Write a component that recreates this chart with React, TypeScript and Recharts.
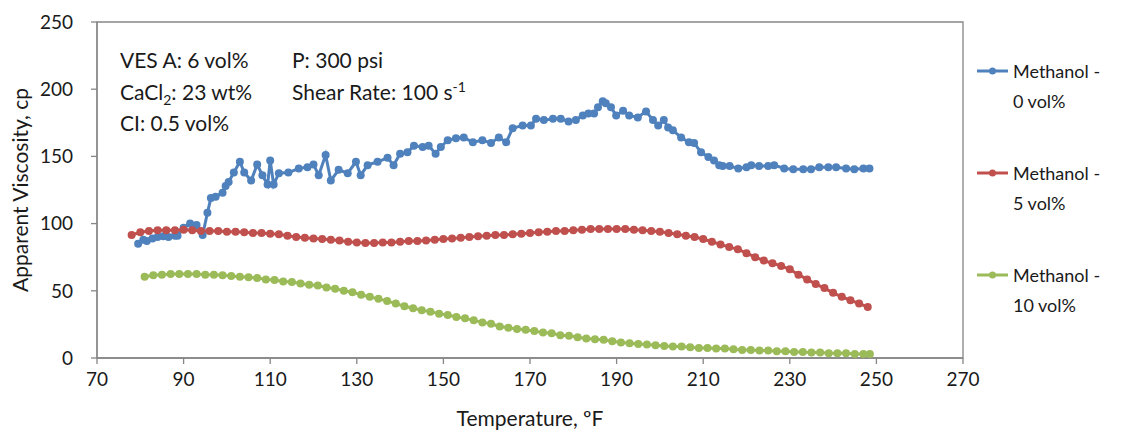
import { LineChart, Line, XAxis, YAxis, ReferenceArea } from "recharts"

// blue: methanol 0 vol% (temperature, viscosity)
const blueTemp = [
  79.5, 80.7, 81.5, 82.8, 84, 85.3, 86.5, 88, 88.6, 90, 91.5, 93, 94.4, 95.5, 96.3, 97.4, 99, 99.7, 100.4, 101.6,
  103, 104, 105.6, 107, 108.2, 109.4, 110, 110.8, 112, 114.2, 116.6, 118.6, 120, 121.2, 122.8, 124, 125.8, 127.9,
  129.8, 130.9, 132.5, 134.8, 137.1, 138.5, 140, 141.7, 143.2, 145.2, 146.6, 148.2, 149.4, 151, 152.9, 154.7,
  156.8, 159, 161, 162.8, 164.5, 166, 168.3, 170.2, 171.4, 173.2, 175.3, 177.1, 178.9, 180.6, 182.2, 183.5,
  184.8, 185.7, 186.8, 187.5, 188.7, 189.9, 191.5, 192.9, 194.9, 196.8, 198.4, 199.6, 200.9, 201.9, 203, 204.9,
  206.7, 207.9, 209.5, 211.2, 212.5, 213.7, 214.5, 216.1, 218.1, 220, 221.1, 222.9, 225, 226.4, 228.7, 230.8,
  233.1, 234.9, 236.8, 238.9, 240.7, 243, 244.9, 247, 248.4,
]
const blueVisc = [
  85, 88, 87, 89, 90, 90.5, 90, 91, 91, 97, 100, 99, 91.5, 108, 119, 120, 123, 128, 131, 138,
  146, 138, 132, 144, 136, 129, 147, 129, 137.5, 138, 141, 142, 144, 136, 151, 132, 140, 137.5,
  146, 136, 143.5, 146, 149, 143.5, 152, 153, 158, 157, 158, 152, 157, 162, 163.5, 164,
  160.5, 162, 160, 164, 160.5, 171, 173, 173, 178, 177, 178, 178, 176, 177, 180.5, 182,
  182, 186.5, 191, 189.5, 186.5, 180.5, 184, 180.5, 179, 183.5, 177, 173, 177, 171.5, 169.5, 164,
  160.5, 160, 153, 149.5, 147, 143.5, 142.8, 142.8, 141, 142, 143.5, 142.8, 142.8, 143.5, 141, 140.5,
  140.5, 140.5, 142, 142, 142, 141, 140.5, 141, 141,
]

// red: methanol 5 vol%
const redTemp = [
  78, 80, 82, 84, 86, 88, 90, 92, 94, 96, 98, 100, 102, 104, 106, 108, 110, 112, 114, 116, 118, 120, 122,
  124, 126, 128, 130, 132, 134, 136, 138, 140, 142, 144, 146, 148, 150, 152, 154, 156, 158, 160, 162, 164,
  166, 168, 170, 172, 174, 176, 178, 180, 182, 184, 186, 188, 190, 192, 194, 196, 198, 200, 202, 204, 206,
  208, 210, 212, 214, 216, 218, 220, 222, 224, 226, 228, 230, 232, 234, 236, 238, 240, 242, 244, 246, 248,
]
const redVisc = [
  91.5, 93.5, 94.5, 95, 95, 95, 95.5, 95, 94.5, 94.5, 94.5, 94, 94, 93.5, 93, 93, 92.5, 92, 91, 90, 89.5, 89, 88.5,
  88, 87.5, 86.5, 86, 85.5, 85.5, 86, 86, 86.5, 87, 87, 87.5, 88, 88.5, 89, 89.5, 90, 90.5, 91, 91.5, 91.5,
  92, 92.5, 93, 93.5, 94, 94.5, 94.5, 95, 95.5, 96, 96, 96, 96, 96, 95.5, 95, 94.5, 94, 93, 92, 91,
  90, 88.5, 86.5, 84.5, 82.5, 81, 78, 75, 72.5, 70.5, 68.5, 66, 62, 58.5, 55, 52, 48.5, 45.5, 43, 40.5, 38,
]

// green: methanol 10 vol%
const greenTemp = [
  81, 83, 85, 87, 89, 91, 93, 95, 97, 99, 101, 103, 105, 107, 109, 111, 113, 115, 117, 119, 121, 123, 125,
  127, 129, 131, 133, 135, 137, 139, 141, 143, 145, 147, 149, 151, 153, 155, 157, 159, 161, 163, 165, 167,
  169, 171, 173, 175, 177, 179, 181, 183, 185, 187, 189, 191, 193, 195, 197, 199, 201, 203, 205, 207, 209,
  211, 213, 215, 217, 219, 221, 223, 225, 227, 229, 231, 233, 235, 237, 239, 241, 243, 245, 247, 248.5,
]
const greenVisc = [
  60.5, 61.5, 62, 62.5, 62.5, 62.5, 62.5, 62, 62, 61.5, 61, 60.5, 60, 59.5, 58.5, 58, 57, 56.5, 55.5, 54.5, 54, 52.5, 51.5,
  50, 49, 47, 45.5, 44, 42.5, 40.5, 38.5, 37, 35.5, 34.5, 33, 32, 30.5, 29.5, 28, 26.5, 25.5, 23.5, 22.5, 21.5,
  21, 20, 19, 18.5, 17, 16.5, 15.5, 14.5, 14, 13.5, 12.5, 11.5, 11, 10.5, 10, 9.5, 9, 8.5, 8.5, 8, 7.5,
  7.5, 7, 7, 6.5, 6, 6, 5.5, 5.5, 5, 5, 4.5, 4.5, 4, 4, 3.5, 3.5, 3.5, 3, 3, 3,
]

const xTicks = [70, 90, 110, 130, 150, 170, 190, 210, 230, 250, 270]
const yTicks = [0, 50, 100, 150, 200, 250]

const seriesNames = ["Methanol - 0 vol%", "Methanol - 5 vol%", "Methanol - 10 vol%"]
const colors = ["#4F81BD", "#C0504D", "#9BBB59"]

const toRows = (t: number[], v: number[]) => t.map((temp, i) => ({ temp, visc: v[i] }))

const font = "Lato, 'Open Sans', sans-serif"
const axisColor = "#868686"
const textColor = "#1a1a1a"

function LegendBox() {
  return (
    <div
      style={{ position: "absolute", left: 969, top: 48, fontFamily: font, fontSize: 18, color: textColor, lineHeight: "30px" }}
    >
      {seriesNames.map((name, i) => {
        const [first, second] = name.split(" - ")
        return (
          <div key={name} style={{ display: "flex", alignItems: "flex-start", marginBottom: i < 2 ? 42 : 0 }}>
            <svg width={36} height={30} style={{ flexShrink: 0 }}>
              <line x1={0} y1={15} x2={31} y2={15} stroke={colors[i]} strokeWidth={3} />
              <circle cx={15.5} cy={15} r={3.5} fill={colors[i]} />
            </svg>
            <div>
              <div>{first} -</div>
              <div>{second}</div>
            </div>
          </div>
        )
      })}
    </div>
  )
}

export default function App() {
  const data = [toRows(blueTemp, blueVisc), toRows(redTemp, redVisc), toRows(greenTemp, greenVisc)]
  const noteStyle = {
    position: "absolute" as const,
    fontFamily: font,
    fontSize: 21,
    lineHeight: "26px",
    color: textColor,
    whiteSpace: "nowrap" as const,
  }

  return (
    <div style={{ position: "relative", width: 1109, height: 422 }}>
      <LineChart width={1109} height={422} margin={{ top: 14, right: 154, left: 0, bottom: 0 }}>
        <ReferenceArea x1={70} x2={270} y1={0} y2={250} fill="none" stroke={axisColor} strokeWidth={1.3} />
        <XAxis
          dataKey="temp"
          type="number"
          domain={[70, 270]}
          ticks={xTicks}
          allowDuplicatedCategory={false}
          height={72}
          stroke={axisColor}
          strokeWidth={1.3}
          tickSize={6}
          tickMargin={9}
          tick={{ fill: textColor, fontSize: 19, fontFamily: font }}
          label={{ value: "Temperature, ºF", position: "insideBottom", offset: 4, fill: textColor, fontSize: 21, fontFamily: font }}
        />
        <YAxis
          dataKey="visc"
          type="number"
          domain={[0, 250]}
          ticks={yTicks}
          width={89}
          stroke={axisColor}
          strokeWidth={1.3}
          tickSize={6}
          tickMargin={18}
          tick={{ fill: textColor, fontSize: 19, fontFamily: font }}
          label={{ value: "Apparent Viscosity, cp", angle: -90, position: "center", dx: -32, fill: textColor, fontSize: 21, fontFamily: font }}
        />
        {data.map((rows, i) => (
          <Line
            key={seriesNames[i]}
            data={rows}
            dataKey="visc"
            name={seriesNames[i]}
            type="linear"
            stroke={colors[i]}
            strokeWidth={3}
            dot={{ r: 4, fill: colors[i], stroke: colors[i], strokeWidth: 0 }}
            activeDot={false}
            isAnimationActive={false}
          />
        ))}
      </LineChart>
      <LegendBox />
      <div style={{ ...noteStyle, left: 112, top: 39 }}>VES A: 6 vol%</div>
      <div style={{ ...noteStyle, left: 112, top: 71 }}>
        CaCl<sub style={{ fontSize: 14, lineHeight: 0 }}>2</sub>: 23 wt%
      </div>
      <div style={{ ...noteStyle, left: 112, top: 102 }}>CI: 0.5 vol%</div>
      <div style={{ ...noteStyle, left: 284, top: 39 }}>P: 300 psi</div>
      <div style={{ ...noteStyle, left: 284, top: 71 }}>
        Shear Rate: 100 s<sup style={{ fontSize: 14, lineHeight: 0 }}>-1</sup>
      </div>
    </div>
  )
}
